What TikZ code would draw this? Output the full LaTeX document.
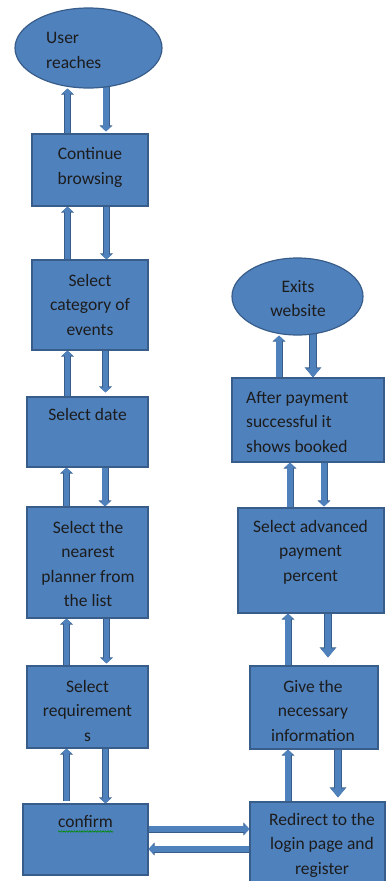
\documentclass[tikz,border=0pt]{standalone}
\usepackage{fontspec}
\setmainfont{Carlito}
\usetikzlibrary{shapes.geometric,arrows.meta,calc,decorations.pathmorphing,backgrounds}
\definecolor{ablue}{HTML}{4F81BD}
\definecolor{aline}{HTML}{385D8A}
\definecolor{txtc}{HTML}{1C1C1C}
\tikzset{
 box/.style={draw=aline, fill=ablue, line width=1.2pt, inner sep=0pt},
 oval/.style={box, ellipse},
 txt/.style={inner sep=0pt, anchor=north, align=center, text=txtc, font=\fontsize{17.5}{24.5}\selectfont},
 barrow/.style={draw=ablue, line width=5.2pt, -{Triangle[length=5pt,width=10.6pt]}, preaction={draw=aline, line width=7pt, -{Triangle[length=6pt,width=12.6pt]}}},
 bigarrow/.style={draw=ablue, line width=5.8pt, -{Triangle[length=9pt,width=14pt]}, preaction={draw=aline, line width=7.6pt, -{Triangle[length=10pt,width=16pt]}}},
}
\begin{document}
\begin{tikzpicture}[x=1pt,y=-1pt]
\useasboundingbox (0,0) rectangle (387,881);
% left column
\node[oval, minimum width=147pt, minimum height=80pt] (ur) at (88.5,48) {};
\node[box, minimum width=116pt, minimum height=72pt] (cb) at (90,170) {};
\node[box, minimum width=116pt, minimum height=90pt] (sc) at (90,305) {};
\node[box, minimum width=121pt, minimum height=70pt] (sd) at (87.5,432) {};
\node[box, minimum width=121pt, minimum height=111pt] (sn) at (87.5,562.5) {};
\node[box, minimum width=121pt, minimum height=82pt] (sr) at (87.5,707) {};
\node[box, minimum width=125pt, minimum height=71pt] (cf) at (85.5,839.5) {};
% right column
\node[oval, minimum width=131pt, minimum height=77pt] (ex) at (297.5,296.5) {};
\node[box, minimum width=152pt, minimum height=84pt] (ap) at (308,420) {};
\node[box, minimum width=146pt, minimum height=105pt] (sa) at (311,560.5) {};
\node[box, minimum width=128pt, minimum height=83pt] (gn) at (314,707.5) {};
\node[box, minimum width=135pt, minimum height=100pt] (rd) at (317.5,852) {};
% texts
\node[txt, anchor=north west, align=left] (urt) at (46,26.2) {\strut User\\reaches};
\node[txt] (cbt) at (90,142.2) {\strut Continue\\browsing};
\node[txt] (sct) at (90,268.85) {\strut Select\\category of\\events};
\node[txt] (sdt) at (87.5,402.85) {\strut Select date};
\node[txt] (snt) at (88,515.85) {\strut Select the\\nearest\\planner from\\the list};
\node[txt] (srt) at (87.5,675) {\strut Select\\requirement\\s};
\node[txt] (cft) at (85.5,809.85) {\strut confirm};
\node[txt] (ext) at (298,274.85) {\strut Exits\\website};
\node[txt, anchor=north west, align=left] (apt) at (246,385.85) {\strut After payment\\successful it\\shows booked};
\node[txt] (sat) at (310.5,514.85) {\strut Select advanced\\payment\\percent};
\node[txt] (gnt) at (313,674.85) {\strut Give the\\necessary\\information};
\node[txt] (rdt) at (322,807.85) {\strut Redirect to the\\login page and\\register};
\draw[green!55!black, line width=0.6pt, decorate, decoration={snake, amplitude=0.7pt, segment length=2.6pt}] (58,831.5) -- (113,831.5);
\begin{pgfonlayer}{background}
\draw[barrow] (cb.north -| 67.5,0) -- (ur.south -| 67.5,0);
\draw[barrow] (ur.center -| 106,0) -- ($(cb.north -| 106,0)+(0,-2)$);
\draw[barrow] (sc.north -| 67.5,0) -- (cb.south -| 67.5,0);
\draw[barrow] (cb.south -| 106.5,0) -- (sc.north -| 106.5,0);
\draw[barrow] (sd.north -| 67.5,0) -- (sc.south -| 67.5,0);
\draw[barrow] (sc.south -| 105.5,0) -- ($(sd.north -| 105.5,0)+(0,-4)$);
\draw[barrow] (sn.north -| 66.5,0) -- (sd.south -| 66.5,0);
\draw[barrow] (sd.south -| 105,0) -- (sn.north -| 105,0);
\draw[barrow] (sr.north -| 66.5,0) -- (sn.south -| 66.5,0);
\draw[barrow] (sn.south -| 106.5,0) -- ($(sr.north -| 106.5,0)+(0,-2)$);
\draw[barrow] ($(cf.north -| 66.5,0)+(0,-2)$) -- (sr.south -| 66.5,0);
\draw[barrow] (sr.south -| 105.5,0) -- (cf.north -| 105.5,0);
\draw[barrow] (cf.east |- 0,829) -- (rd.west |- 0,829);
\draw[barrow] (rd.west |- 0,849) -- (cf.east |- 0,849);
\draw[barrow] (rd.north -| 288,0) -- (gn.south -| 288,0);
\draw[bigarrow] (gn.south -| 338,0) -- ($(rd.north -| 338,0)+(0,-4)$);
\draw[barrow] (gn.north -| 288,0) -- (sa.south -| 288,0);
\draw[bigarrow] (sa.south -| 328,0) -- ($(gn.north -| 328,0)+(0,-8)$);
\draw[barrow] (sa.north -| 290,0) -- (ap.south -| 290,0);
\draw[barrow] (ap.south -| 324,0) -- ($(sa.north -| 324,0)+(0,-1)$);
\draw[barrow] (ap.north -| 279,0) -- (ex.south -| 279,0);
\draw[bigarrow] (ex.center -| 313,0) -- (ap.north -| 313,0);
\end{pgfonlayer}
\end{tikzpicture}
\end{document}
